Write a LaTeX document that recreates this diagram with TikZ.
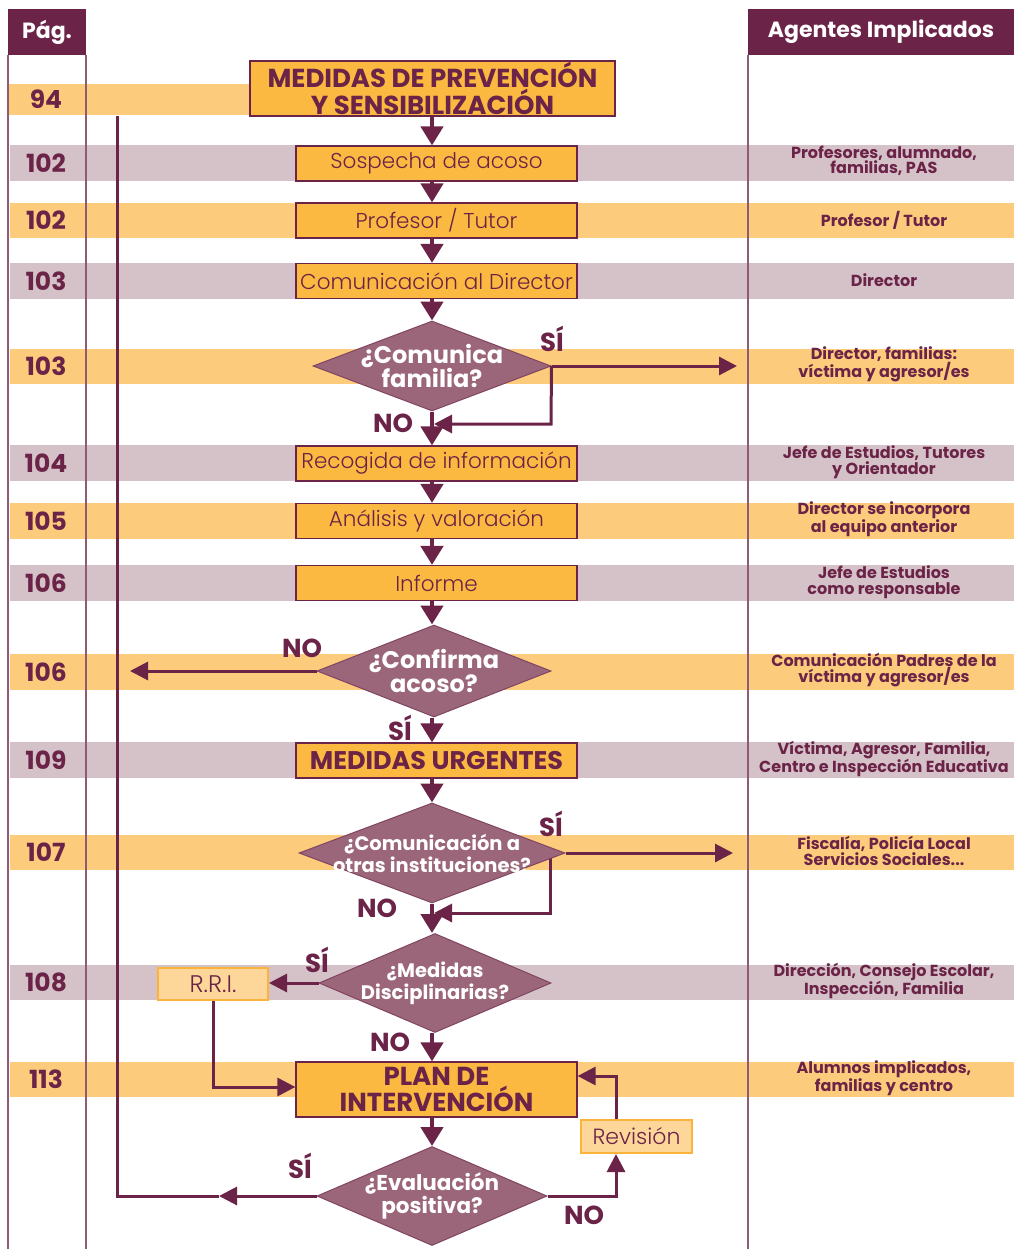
\documentclass[tikz,border=0pt]{standalone}
\usepackage{fontspec}
\setmainfont{Poppins}
\newfontfamily\lightf{Poppins Light}
\usetikzlibrary{arrows.meta,shapes.geometric}
\definecolor{dp}{HTML}{6B2347}
\definecolor{bandO}{HTML}{FDCB7C}
\definecolor{bandP}{HTML}{D5C2C9}
\definecolor{boxO}{HTML}{FBB942}
\definecolor{diaF}{HTML}{9B6679}
\definecolor{lightO}{HTML}{FDD79A}
\definecolor{borderO}{HTML}{FBB33C}
\definecolor{colL}{HTML}{8E5B74}
\pgfdeclarelayer{bg}
\pgfdeclarelayer{mid}
\pgfsetlayers{bg,mid,main}
\begin{document}
\begin{tikzpicture}[x=1pt,y=-1pt,
  hdr/.style={fill=dp,text=white,inner sep=0pt,font=\bfseries\fontsize{22}{24}\selectfont},
  pg/.style={text=dp,inner sep=0pt,font=\bfseries\fontsize{25}{26}\selectfont},
  ag/.style={text=dp,inner sep=0pt,align=center,font=\bfseries\fontsize{16}{15.5}\selectfont},
  box/.style={draw=dp,line width=1.2pt,fill=boxO,minimum width=281pt,minimum height=35pt,inner sep=0pt,text=dp,font=\lightf\fontsize{21.5}{24}\selectfont},
  bbox/.style={box,align=center,font=\bfseries\fontsize{26}{23.5}\selectfont},
  sbox/.style={draw=borderO,line width=2pt,fill=lightO,minimum width=110pt,minimum height=32pt,inner sep=0pt,text=dp,font=\lightf\fontsize{22}{22}\selectfont},
  dia/.style={diamond,draw=dp!85,line width=1pt,fill=diaF,inner sep=0pt},
  dlab/.style={text=white,align=center,font=\bfseries\fontsize{24}{24}\selectfont},
  yn/.style={text=dp,inner sep=0pt,font=\bfseries\fontsize{26}{26}\selectfont},
  arr/.style={draw=dp,line width=4.5pt,-{Triangle[length=19pt,width=22pt]}},
  lnk/.style={draw=dp,line width=3pt},
  arrs/.style={lnk,-{Triangle[length=18pt,width=18pt]}},
  col/.style={draw=colL,line width=1.5pt}]
\useasboundingbox (0,0) rectangle (1014,1249);
% bands and column lines
\begin{pgfonlayer}{bg}
\fill[bandO] (8,84) rectangle (250,115);
\foreach \ya/\yb/\c in {145/181/bandP,203/238/bandO,263/299/bandP,349/384/bandO,445/481/bandP,503/539/bandO,565/601/bandP,654/690/bandO,742/778/bandP,835/870/bandO,965/1000/bandP,1062/1097/bandO}
  \fill[\c] (10,\ya) rectangle (1014,\yb);
\draw[col] (8,55) -- (8,1249);
\draw[col] (86,55) -- (86,1249);
\draw[col] (748,55) -- (748,1249);
\end{pgfonlayer}
% headers
\node[hdr,minimum width=78pt,minimum height=46pt] (h1) at (47,32) {Pág.};
\node[hdr,minimum width=266pt,minimum height=46pt] (h2) at (881,32) {Agentes Implicados};
% page numbers
\node[pg] (p1) at (46,99.5) {94};
\node[pg] (p2) at (46,163) {102};
\node[pg] (p3) at (46,220.5) {102};
\node[pg] (p4) at (46,281) {103};
\node[pg] (p5) at (46,366.5) {103};
\node[pg] (p6) at (46,463) {104};
\node[pg] (p7) at (46,521) {105};
\node[pg] (p8) at (46,583) {106};
\node[pg] (p9) at (46,672) {106};
\node[pg] (p10) at (46,760) {109};
\node[pg] (p11) at (46,852.5) {107};
\node[pg] (p12) at (46,982.5) {108};
\node[pg] (p13) at (46,1079.5) {113};
% agents
\node[ag] (a2) at (884,161) {Profesores, alumnado,\\familias, PAS};
\node[ag] (a3) at (884,220) {Profesor / Tutor};
\node[ag] (a4) at (884,280) {Director};
\node[ag] (a5) at (884,364) {Director, familias:\\víctima y agresor/es};
\node[ag] (a6) at (884,462) {Jefe de Estudios, Tutores\\y Orientador};
\node[ag] (a7) at (884,519) {Director se incorpora\\al equipo anterior};
\node[ag] (a8) at (884,582) {Jefe de Estudios\\como responsable};
\node[ag] (a9) at (884,670) {Comunicación Padres de la\\víctima y agresor/es};
\node[ag] (a10) at (884,759) {Víctima, Agresor, Familia,\\Centro e Inspección Educativa};
\node[ag] (a11) at (884,851) {Fiscalía, Policía Local\\Servicios Sociales...};
\node[ag] (a12) at (884,981) {Dirección, Consejo Escolar,\\Inspección, Familia};
\node[ag] (a13) at (884,1078) {Alumnos implicados,\\familias y centro};
% flow nodes
\node[bbox,minimum width=365pt,minimum height=55pt] (top) at (432.5,88.5) {MEDIDAS DE PREVENCIÓN\\Y SENSIBILIZACIÓN};
\node[box] (b1) at (436.5,163.5) {Sospecha de acoso};
\node[box] (b2) at (436.5,220.5) {Profesor / Tutor};
\node[box] (b3) at (436.5,281) {Comunicación al Director};
\node[dia,minimum width=238pt,minimum height=90pt,label={[dlab]center:{¿Comunica\\familia?}}] (d1) at (432,366) {};
\node[box] (b4) at (436.5,463.5) {Recogida de información};
\node[box] (b5) at (436.5,521) {Análisis y valoración};
\node[box] (b6) at (436.5,583) {Informe};
\node[dia,minimum width=234pt,minimum height=92pt,label={[dlab]center:{¿Confirma\\acoso?}}] (d2) at (434,671) {};
\node[bbox,font=\bfseries\fontsize{25.5}{26}\selectfont] (bu) at (436.5,760.5) {MEDIDAS URGENTES};
\node[dia,minimum width=266pt,minimum height=100pt,label={[dlab,font=\bfseries\fontsize{19.5}{22}\selectfont]center:{¿Comunicación a\\otras instituciones?}}] (d3) at (432,853) {};
\node[dia,minimum width=232pt,minimum height=99pt,label={[dlab,font=\bfseries\fontsize{19.5}{22}\selectfont]center:{¿Medidas\\Disciplinarias?}}] (d4) at (435,983) {};
\node[sbox,font=\lightf\fontsize{24}{24}\selectfont] (rri) at (213,984) {R.R.I.};
\node[bbox,minimum height=55pt] (plan) at (436.5,1089.5) {PLAN DE\\INTERVENCIÓN};
\node[sbox,minimum width=111pt,minimum height=33pt] (rev) at (636.5,1136.5) {Revisión};
\node[dia,minimum width=230pt,minimum height=99pt,label={[dlab,font=\bfseries\fontsize{21.5}{23}\selectfont]center:{¿Evaluación\\positiva?}}] (d5) at (432,1196) {};
% yes/no labels
\node[yn] (l1) at (552,339) {SÍ};
\node[yn] (l2) at (393,423) {NO};
\node[yn] (l3) at (302,648) {NO};
\node[yn] (l4) at (400,728) {SÍ};
\node[yn] (l5) at (551,824) {SÍ};
\node[yn] (l6) at (377,908) {NO};
\node[yn] (l7) at (317,960) {SÍ};
\node[yn] (l8) at (390,1042) {NO};
\node[yn] (l9) at (300,1166) {SÍ};
\node[yn] (l10) at (584,1215) {NO};
% helper coordinates
\coordinate (sp) at (432,0);
\coordinate (t1) at (737,0);
\coordinate (k1) at (551,424);
\coordinate (t2) at (130,0);
\coordinate (t3) at (733,0);
\coordinate (k3) at (550,913);
\coordinate (c87) at (0,1087);
\coordinate (m5) at (219,0);
\coordinate (lt) at (117,116);
\coordinate (c616) at (616,0);
\coordinate (c76) at (0,1076);
% connectors
\draw[arr] (top.south -| sp) -- (b1.north -| sp);
\draw[arr] (b1.south -| sp) -- (b2.north -| sp);
\draw[arr] (b2.south -| sp) -- (b3.north -| sp);
\draw[arr] (b3.south -| sp) -- (d1.north);
\draw[arr] (d1.south) -- (b4.north -| sp);
\draw[arrs] (d1.east) -- (d1.east -| t1);
\draw[arrs,shorten >=2pt] (d1.east) -- (k1) -- (k1 -| sp);
\draw[arr] (b4.south -| sp) -- (b5.north -| sp);
\draw[arr] (b5.south -| sp) -- (b6.north -| sp);
\draw[arr] (b6.south -| sp) -- (d2.north -| sp);
\draw[arrs] (d2.west) -- (d2.west -| t2);
\draw[arr] (d2.south -| sp) -- (bu.north -| sp);
\draw[arr] (bu.south -| sp) -- (d3.north);
\draw[arrs] (d3.east) -- (d3.east -| t3);
\begin{pgfonlayer}{mid}
\draw[arrs,shorten >=2pt] (d3.east -| k3) -- (k3) -- (k3 -| sp);
\end{pgfonlayer}
\draw[arr] (d3.south) -- (d4.north -| sp);
\draw[arrs] (d4.west) -- (d4.west -| rri.east);
\draw[arr] (d4.south -| sp) -- (plan.north -| sp);
\draw[arrs] (rri.south) |- (plan.west |- c87);
\draw[arr] (plan.south -| sp) -- (d5.north);
\draw[arrs] (d5.west) -- (d5.west -| m5);
\draw[lnk] (d5.west -| m5) -- (d5.west -| lt) -- (lt);
\draw[arrs] (d5.east) -| (rev.south -| c616);
\draw[arrs] (rev.north -| c616) |- (plan.east |- c76);
\end{tikzpicture}
\end{document}
